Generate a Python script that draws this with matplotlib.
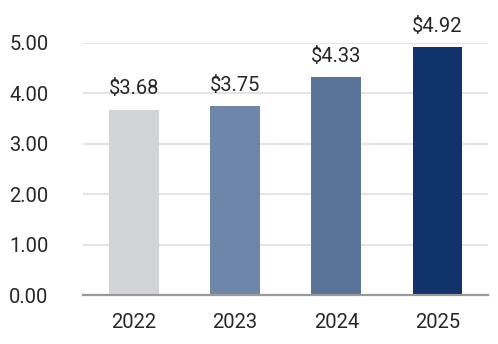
import matplotlib.pyplot as plt

years = ["2022", "2023", "2024", "2025"]
values = [3.68, 3.75, 4.33, 4.92]
bar_colors = ["#d3d4d7", "#6f86ab", "#5a7399", "#10336b"]
y_ticks = [0, 1, 2, 3, 4, 5]

plt.rcParams["font.family"] = ["Roboto", "DejaVu Sans"]

fig = plt.figure(figsize=(4.98, 3.44), dpi=100)
ax = fig.add_axes([0.167, 0.142, 0.813, 0.733])

x = range(len(years))
bars = ax.bar(x, values, width=0.49, color=bar_colors, zorder=3)

for bar, val in zip(bars, values):
    ax.annotate(
        f"${val:.2f}",
        (bar.get_x() + bar.get_width() / 2, val),
        xytext=(0, 8),
        textcoords="offset points",
        ha="center",
        va="bottom",
        fontsize=14.5,
        color="#262626",
        annotation_clip=False,
    )

ax.set_xlim(-0.5, len(years) - 0.5)
ax.set_ylim(0, 5)
ax.set_xticks(list(x))
ax.set_xticklabels(years)
ax.set_yticks(y_ticks)
ax.set_yticklabels([f"{t:.2f}" for t in y_ticks])
ax.tick_params(axis="y", length=0, pad=25, labelsize=14.5, labelcolor="#262626")
ax.tick_params(axis="x", length=0, pad=13, labelsize=14.5, labelcolor="#262626")

ax.grid(axis="y", color="#e4e4e4", linewidth=1.5, zorder=0)
for side in ["top", "right", "left"]:
    ax.spines[side].set_visible(False)
ax.spines["bottom"].set_color("#9a9a9a")
ax.spines["bottom"].set_linewidth(1.6)
ax.spines["bottom"].set_zorder(4)

fig.savefig("out.png", dpi=100)
